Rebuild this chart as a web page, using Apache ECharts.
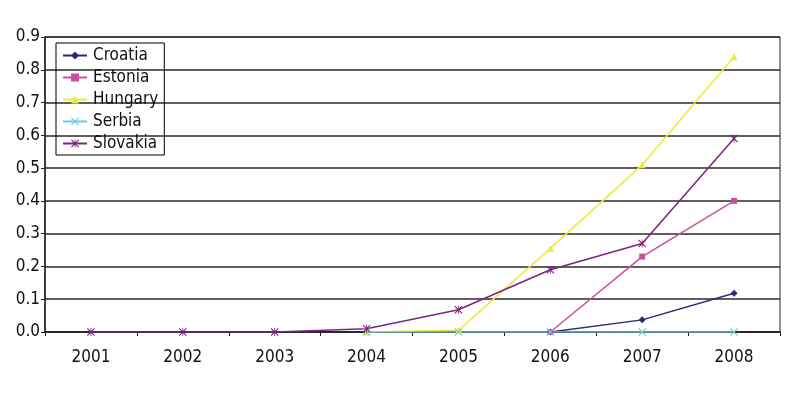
<!DOCTYPE html>
<html>
<head>
<meta charset="utf-8">
<script src="https://cdn.jsdelivr.net/npm/echarts@6/dist/echarts.min.js"></script>
<style>
  html, body { margin: 0; padding: 0; background: #fff; }
  #chart { width: 800px; height: 400px; }
</style>
</head>
<body>
<div id="chart"></div>
<script>
// data
var years = ['2001', '2002', '2003', '2004', '2005', '2006', '2007', '2008'];
var croatia = [null, null, null, null, null, 0, 0.037, 0.118];
var estonia = [null, null, null, null, null, 0, 0.23, 0.40];
var hungary = [null, null, null, 0, 0.005, 0.255, 0.51, 0.84];
var serbia = [null, null, null, 0, 0, 0, 0, 0];
var slovakia = [0, 0, 0, 0.01, 0.068, 0.19, 0.27, 0.59];

var font = '"DejaVu Sans Condensed", "DejaVu Sans", sans-serif';

// marker shapes
var crossPath = 'path://M0,1L1,0L10,9L9,10Z M9,0L10,1L1,10L0,9Z';
var starPath = 'path://M4.5,0H5.5V10H4.5Z M0,1L1,0L10,9L9,10Z M9,0L10,1L1,10L0,9Z';

function line(name, data, color, symbol, size) {
  return {
    name: name,
    type: 'line',
    data: data,
    symbol: symbol,
    symbolSize: size,
    showAllSymbol: true,
    connectNulls: false,
    lineStyle: { color: color, width: 1.5 },
    itemStyle: { color: color },
    emphasis: { disabled: true },
    animation: false
  };
}

var chart = echarts.init(document.getElementById('chart'));
chart.setOption({
  backgroundColor: '#fff',
  animation: false,
  grid: {
    left: 45, right: 20, top: 37, bottom: 68,
    show: true, borderColor: '#222', borderWidth: 1
  },
  legend: {
    orient: 'vertical',
    left: 56, top: 43,
    borderColor: '#000', borderWidth: 1,
    padding: [4, 6, 3, 6],
    itemWidth: 24, itemHeight: 10, itemGap: 5,
    textStyle: { fontFamily: font, fontSize: 17, lineHeight: 17, color: '#111', padding: [0, 0, 0, 1] },
    data: ['Croatia', 'Estonia', 'Hungary', 'Serbia', 'Slovakia']
  },
  xAxis: {
    type: 'category',
    data: years,
    boundaryGap: true,
    axisLine: { lineStyle: { color: '#222', width: 1.5 } },
    axisTick: { show: true, length: 4, lineStyle: { color: '#222' } },
    axisLabel: { fontFamily: font, fontSize: 17, color: '#111', margin: 17 }
  },
  yAxis: {
    type: 'value',
    min: 0, max: 0.9, interval: 0.1,
    axisLine: { show: true, lineStyle: { color: '#222', width: 1.5 } },
    axisTick: { show: true, length: 4, lineStyle: { color: '#222' } },
    axisLabel: {
      fontFamily: font, fontSize: 17, color: '#111', margin: 5,
      formatter: function (v) { return v.toFixed(1); }
    },
    splitLine: { lineStyle: { color: '#2a2a2a', width: 1.5 } }
  },
  series: [
    line('Croatia', croatia, '#2b2b78', 'diamond', 7),
    line('Estonia', estonia, '#cc4f9f', 'rect', 6),
    line('Hungary', hungary, '#eee83a', 'triangle', 7),
    line('Serbia', serbia, '#6ccbe0', crossPath, 8),
    line('Slovakia', slovakia, '#7d2383', starPath, 8)
  ]
});
</script>
</body>
</html>
